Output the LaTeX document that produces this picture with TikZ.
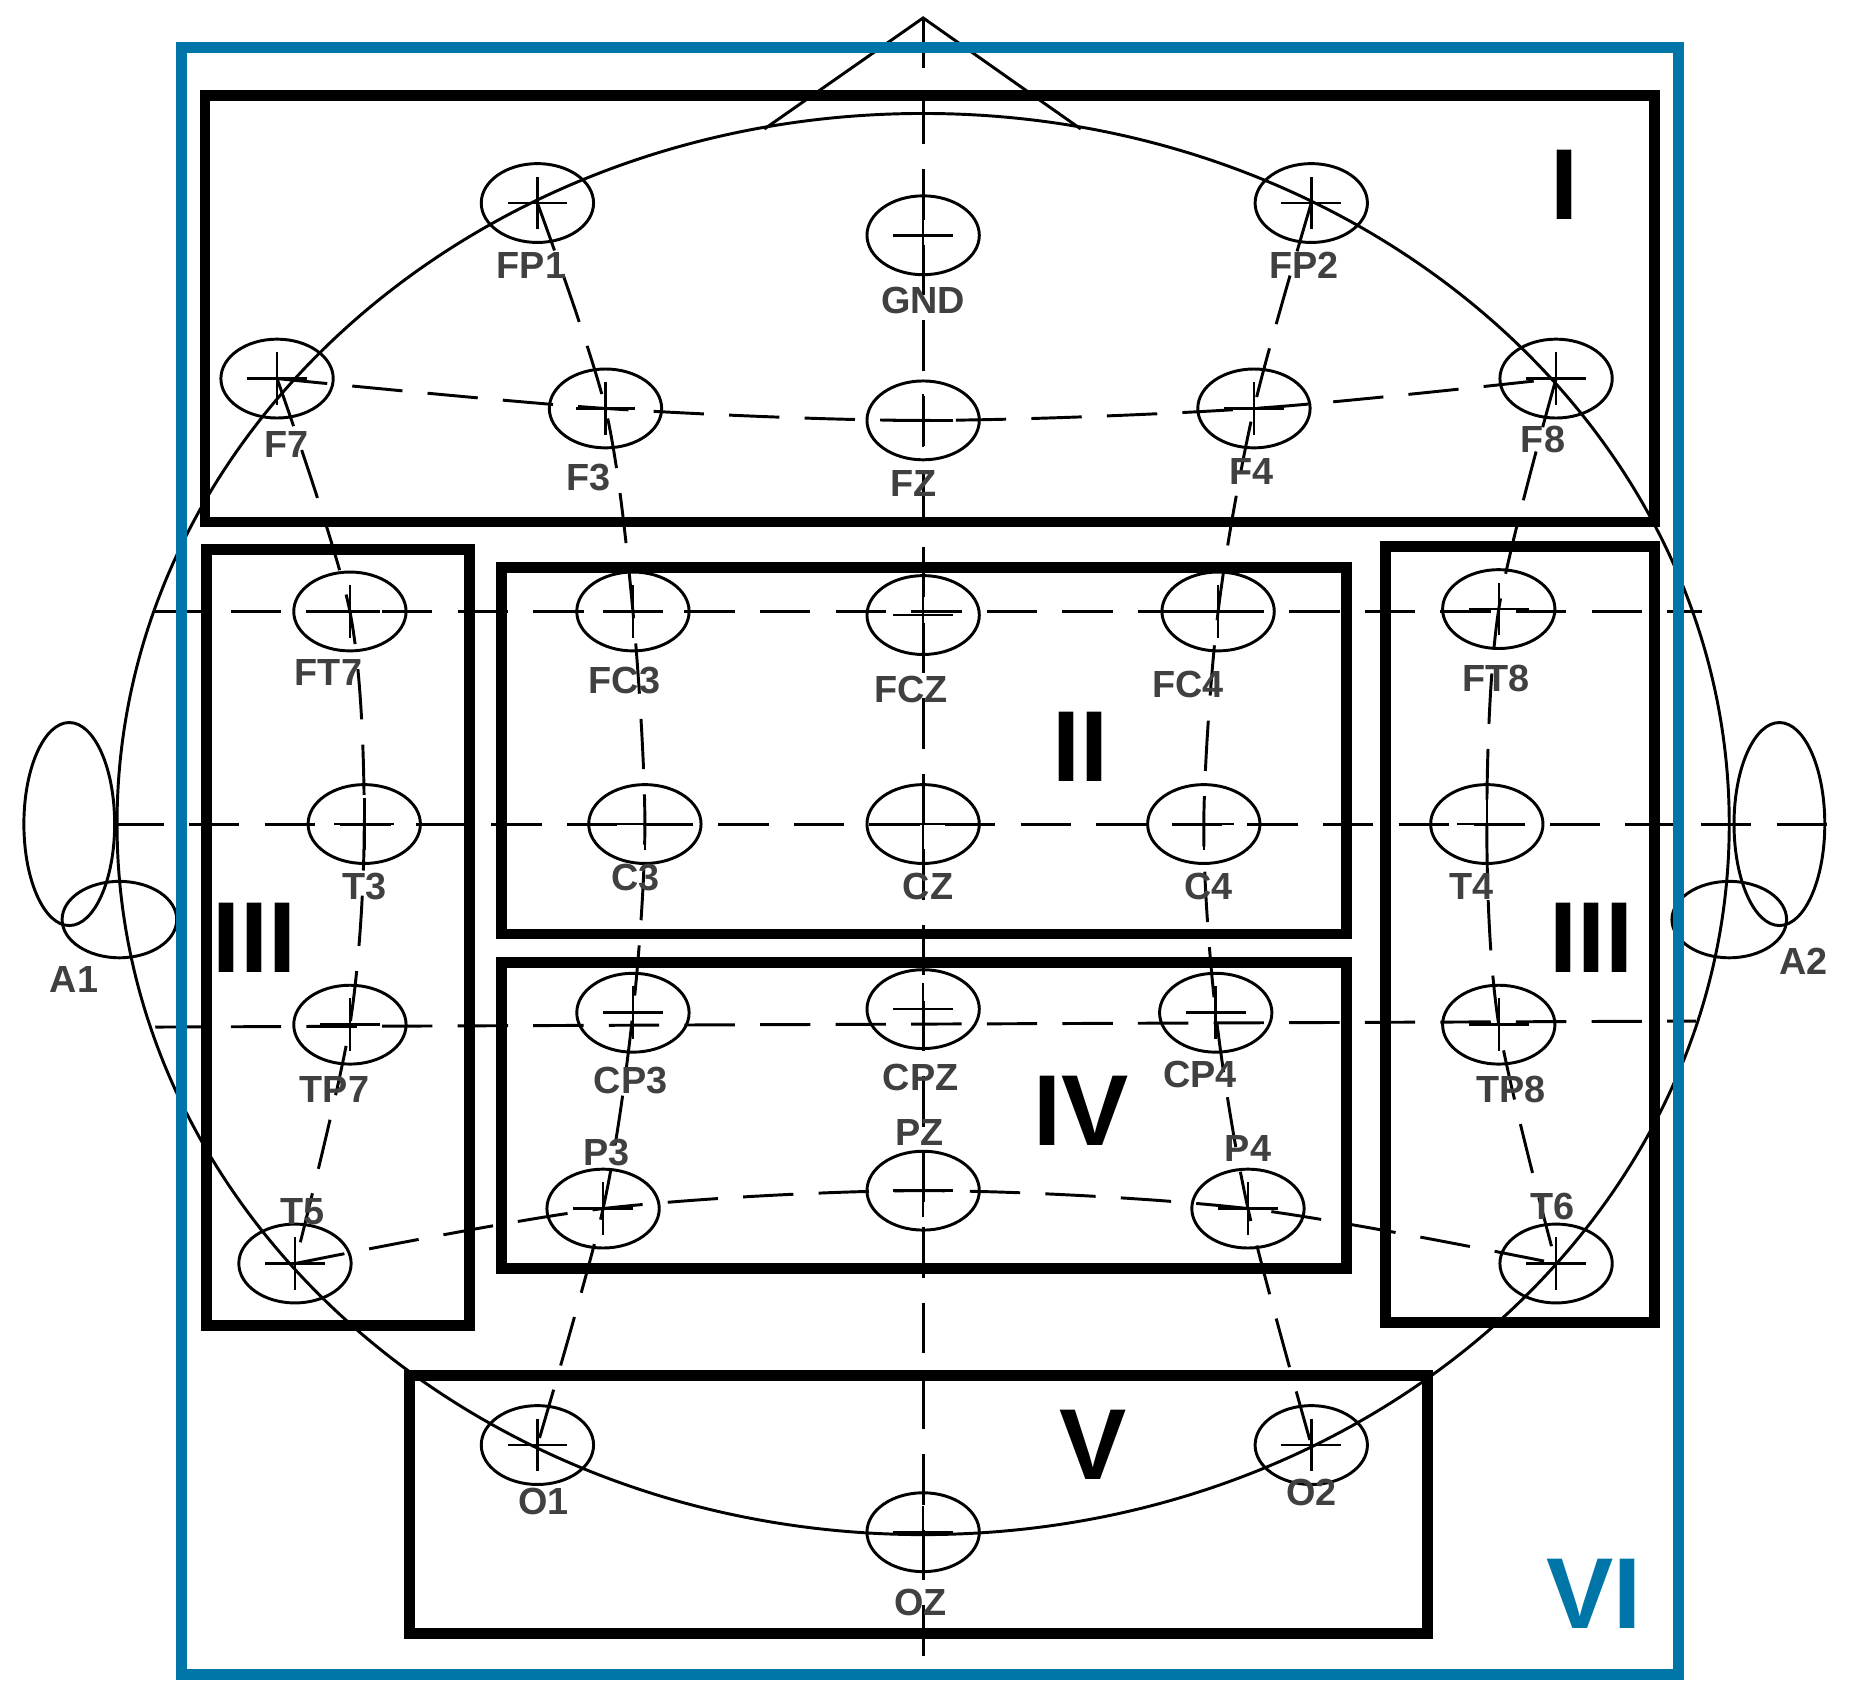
\documentclass[tikz,border=0pt]{standalone}
\usepackage{fontspec}
\setmainfont{Liberation Sans}
\usetikzlibrary{shapes.geometric}
\definecolor{vib}{RGB}{0,118,168}
\begin{document}
\begin{tikzpicture}[x=0.01cm,y=-0.01cm,
  elec/.style={ellipse,draw,line width=0.7pt,minimum width=0.94cm,minimum height=0.66cm,inner sep=0pt},
  lab/.style={font=\fontsize{9}{9}\selectfont\bfseries,text=black!75},
  dsh/.style={line width=0.7pt,dash pattern=on 12pt off 6pt},
  region/.style={draw,line width=2.6pt},
  rn/.style={font=\fontsize{24}{24}\selectfont\bfseries}]
\useasboundingbox (0,0) rectangle (1560,1420);
% head
\draw[line width=0.7pt] (773,690) ellipse [x radius=675,y radius=595];
\draw[line width=0.7pt] (640,108) -- (773,15) -- (905,108);
\draw[line width=0.7pt] (58,690) ellipse [x radius=38,y radius=85];
\draw[line width=0.7pt] (1490,690) ellipse [x radius=38,y radius=85];
\draw[line width=0.7pt] (100,770) ellipse [x radius=48,y radius=32];
\draw[line width=0.7pt] (1448,770) ellipse [x radius=48,y radius=32];
% electrodes
\foreach \n/\x/\y in {FP1/450/170,GND/773/197,FP2/1098/170,
 F7/232/317,F3/507/342,FZ/773/352,F4/1050/342,F8/1303/317,
 FT7/293/512,FC3/530/512,FCZ/773/515,FC4/1020/512,FT8/1255/510,
 T3/305/690,C3/540/690,CZ/773/690,C4/1008/690,T4/1245/690,
 TP7/293/858,CP3/530/848,CPZ/773/845,CP4/1018/848,TP8/1255/858,
 T5/247/1058,P3/505/1012,PZ/773/997,P4/1045/1012,T6/1303/1058,
 O1/450/1210,OZ/773/1283,O2/1098/1210}{
 \node[elec] (\n) at (\x,\y) {};
 \draw[line width=0.6pt] ([xshift=-0.25cm]\n.center) -- ([xshift=0.25cm]\n.center);
 \draw[line width=0.6pt] ([yshift=-0.22cm]\n.center) -- ([yshift=0.22cm]\n.center);
}
% grid lines
\draw[dsh] (773,15) -- (773,1395);
\draw[dsh] (95,690) -- (1550,690);
\draw[dsh] (130,512) -- (1425,512);
\draw[dsh] (130,860) -- (1420,855);
\draw[dsh] plot[smooth] coordinates {(F7.center) (F3.center) (FZ.center) (F4.center) (F8.center)};
\draw[dsh] plot[smooth] coordinates {(T5.center) (P3.center) (PZ.center) (P4.center) (T6.center)};
\draw[dsh] plot[smooth] coordinates {(FP1.center) (F3.center) (FC3.center) (C3.center) (CP3.center) (P3.center) (O1.center)};
\draw[dsh] plot[smooth] coordinates {(FP2.center) (F4.center) (FC4.center) (C4.center) (CP4.center) (P4.center) (O2.center)};
\draw[dsh] plot[smooth] coordinates {(F7.center) (FT7.center) (T3.center) (TP7.center) (T5.center)};
\draw[dsh] plot[smooth] coordinates {(F8.center) (FT8.center) (T4.center) (TP8.center) (T6.center)};
% labels
\foreach \t/\x/\y in {FP1/445/222,GND/773/252,FP2/1092/222,F7/240/372,F3/493/400,FZ/765/405,F4/1048/395,F8/1292/368,
 FT7/275/563,FC3/523/570,FCZ/763/577,FC4/995/573,FT8/1253/568,T3/305/742,C3/532/735,CZ/777/742,C4/1012/742,T4/1232/742,
 TP7/280/912,CP3/528/905,CPZ/771/902,CP4/1005/900,TP8/1265/912,P3/508/965,PZ/770/948,P4/1045/962,T5/253/1015,T6/1300/1010,
 O1/455/1257,OZ/771/1342,O2/1098/1250,A1/62/820,A2/1510/805}{
 \node[lab] (l\t) at (\x,\y) {\t};
}
% regions
\node[draw=vib,line width=2.6pt,minimum width=12.53cm,minimum height=13.62cm] (R6) at (778.5,721) {};
\node[region,minimum width=12.13cm,minimum height=3.57cm] (R1) at (778.5,258.5) {};
\node[region,minimum width=2.2cm,minimum height=6.5cm] (R3a) at (283,785) {};
\node[region,minimum width=7.07cm,minimum height=3.07cm] (R2) at (773.5,628.5) {};
\node[region,minimum width=7.07cm,minimum height=2.56cm] (R4) at (773.5,934) {};
\node[region,minimum width=2.25cm,minimum height=6.49cm] (R3b) at (1272.5,782.5) {};
\node[region,minimum width=8.52cm,minimum height=2.16cm] (R5) at (769,1260) {};
\node[rn] (n1) at (1310,155) {I};
\node[rn] (n2) at (905,625) {II};
\node[rn] (n3a) at (213,785) {III};
\node[rn] (n3b) at (1333,785) {III};
\node[rn] (n4) at (905,930) {IV};
\node[rn] (n5) at (915,1210) {V};
\node[rn,text=vib] (n6) at (1335,1335) {VI};
\end{tikzpicture}
\end{document}
